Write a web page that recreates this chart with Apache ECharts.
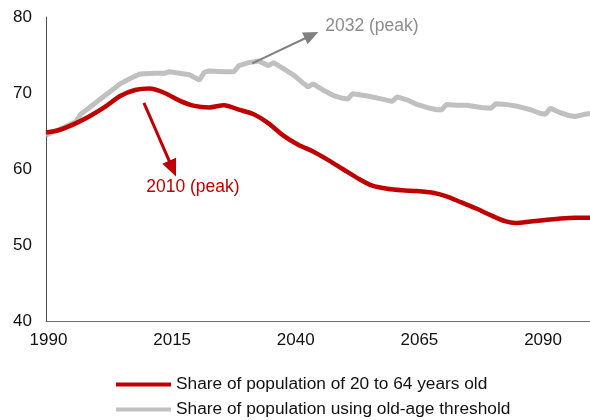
<!DOCTYPE html>
<html>
<head>
<meta charset="utf-8">
<script src="https://cdn.jsdelivr.net/npm/echarts@6/dist/echarts.min.js"></script>
<style>
  html, body { margin: 0; padding: 0; background: #fff; }
  #chart { width: 590px; height: 420px; }
</style>
</head>
<body>
<div id="chart"></div>
<script>
// share of population of 20 to 64 years old
var redYears = [1990, 1993, 1996, 1999, 2002, 2005, 2008, 2011, 2014, 2017, 2020, 2023, 2026, 2029,
  2032, 2035, 2038, 2041, 2044, 2047, 2050, 2053, 2056, 2059, 2062, 2065, 2068, 2071, 2074,
  2077, 2080, 2083, 2085, 2088, 2091, 2094, 2097, 2100];
var redValues = [64.8, 65.2, 66.0, 67.0, 68.2, 69.6, 70.4, 70.6, 70.0, 69.0, 68.3, 68.1, 68.4, 67.8,
  67.2, 66.0, 64.4, 63.2, 62.3, 61.2, 60.0, 58.8, 57.8, 57.4, 57.2, 57.1, 56.9, 56.4, 55.6,
  54.8, 53.9, 53.1, 52.9, 53.1, 53.3, 53.5, 53.6, 53.6];

// share of population using old-age threshold
var grayYears = [1990, 1992, 1994, 1996, 1997, 1999, 2001, 2003, 2005, 2007, 2009, 2012, 2014, 2015,
  2017, 2019, 2021, 2022, 2023, 2026, 2028, 2029, 2031, 2033, 2035, 2036, 2038, 2040, 2042,
  2043, 2044, 2046, 2048, 2050, 2051, 2052, 2055, 2058, 2060, 2061, 2063, 2065, 2067, 2069,
  2070, 2071, 2073, 2075, 2078, 2080, 2081, 2083, 2085, 2088, 2090, 2091, 2092, 2094, 2096,
  2097, 2099, 2100];
var grayValues = [64.5, 65.0, 65.6, 66.2, 67.2, 68.2, 69.2, 70.2, 71.2, 71.9, 72.5, 72.6, 72.6, 72.8,
  72.6, 72.4, 71.7, 72.7, 72.9, 72.8, 72.8, 73.6, 74.0, 74.2, 73.6, 74.0, 73.2, 72.4, 71.3,
  70.8, 71.2, 70.4, 69.7, 69.3, 69.2, 69.9, 69.6, 69.2, 68.9, 69.5, 69.1, 68.5, 68.1, 67.8,
  67.8, 68.5, 68.4, 68.4, 68.1, 68.0, 68.6, 68.5, 68.3, 67.8, 67.3, 67.2, 68.0, 67.4, 67.0,
  66.9, 67.2, 67.3];

var seriesNames = ['Share of population of 20 to 64 years old', 'Share of population using old-age threshold'];

var xMin = 1990, xMax = 2100, xStep = 25;
var yMin = 40, yMax = 80, yStep = 10;

function pairs(xs, ys) {
  var out = [];
  for (var i = 0; i < xs.length; i++) out.push([xs[i], ys[i]]);
  return out;
}

var myChart = echarts.init(document.getElementById('chart'));
var font = 'Liberation Sans, Arial, sans-serif';

// one legend box per line, stacked
function legendBox(name, top) {
  return {
    left: 116,
    top: top,
    icon: 'rect',
    itemWidth: 55,
    itemHeight: 4,
    padding: 0,
    textStyle: { fontSize: 17.3, color: '#111', fontFamily: font },
    data: [name]
  };
}

var option = {
  animation: false,
  textStyle: { fontFamily: font },
  grid: { left: 46, right: 0, top: 17, bottom: 99 },
  legend: [legendBox(seriesNames[0], 376), legendBox(seriesNames[1], 401)],
  xAxis: {
    type: 'value',
    min: xMin,
    max: xMax,
    interval: xStep,
    axisLine: { show: true, lineStyle: { color: '#6e6e6e', width: 1 } },
    axisTick: { show: false },
    splitLine: { show: false },
    axisLabel: {
      fontSize: 17, color: '#111', margin: 11, showMaxLabel: false, fontFamily: font,
      padding: [0, 0, 0, 5],
      formatter: function (v) { return String(v); }
    }
  },
  yAxis: {
    type: 'value',
    min: yMin,
    max: yMax,
    interval: yStep,
    axisLine: { show: true, lineStyle: { color: '#4d4d4d', width: 1 } },
    axisTick: { show: false },
    splitLine: { show: false },
    axisLabel: { fontSize: 17, color: '#111', margin: 14, fontFamily: font }
  },
  series: [{
    name: seriesNames[0],
    type: 'line',
    data: pairs(redYears, redValues),
    smooth: 0.3,
    symbol: 'none',
    z: 3,
    itemStyle: { color: '#C00000' },
    lineStyle: { color: '#C00000', width: 4.5 },
    markLine: {
      silent: true,
      symbol: ['none', 'triangle'],
      symbolSize: [15, 17],
      label: { show: false },
      lineStyle: { color: '#C00000', width: 3, type: 'solid' },
      data: [[{ coord: [2009.8, 68.7] }, { coord: [2015.6, 60.05] }]]
    },
    markPoint: {
      silent: true,
      symbol: 'circle',
      symbolSize: 0,
      label: { show: true, position: 'inside', color: '#C00000', fontSize: 17.5, fontFamily: font, formatter: '2010 (peak)' },
      data: [{ coord: [2019.7, 57.6] }]
    }
  }, {
    name: seriesNames[1],
    type: 'line',
    data: pairs(grayYears, grayValues),
    symbol: 'none',
    z: 2,
    itemStyle: { color: '#C0C0C0' },
    lineStyle: { color: '#C0C0C0', width: 5 },
    markLine: {
      silent: true,
      symbol: ['none', 'triangle'],
      symbolSize: [13, 15],
      label: { show: false },
      lineStyle: { color: '#808080', width: 2, type: 'solid' },
      data: [[{ coord: [2031.7, 73.9] }, { coord: [2043.7, 77.6] }]]
    },
    markPoint: {
      silent: true,
      symbol: 'circle',
      symbolSize: 0,
      label: { show: true, position: 'inside', color: '#8c8c8c', fontSize: 17.5, fontFamily: font, formatter: '2032 (peak)' },
      data: [{ coord: [2055.9, 78.8] }]
    }
  }]
};

myChart.setOption(option);
</script>
</body>
</html>
